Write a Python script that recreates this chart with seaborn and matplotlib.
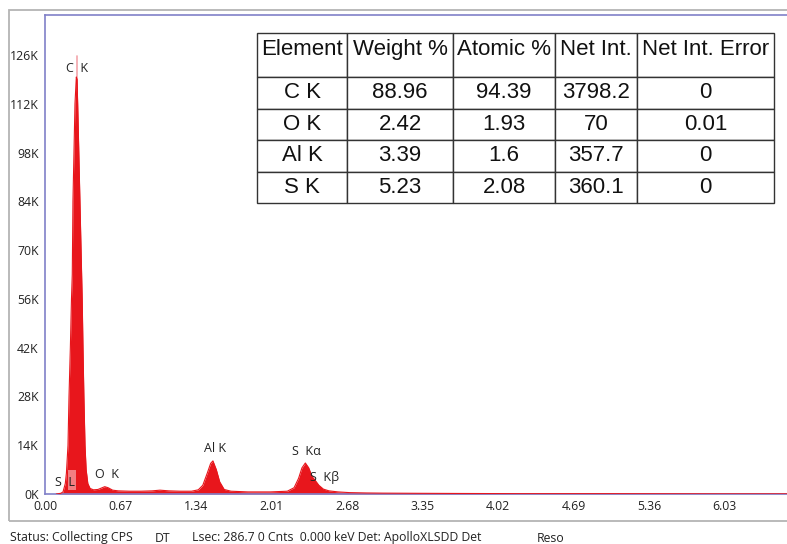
import matplotlib
matplotlib.use("Agg")
import matplotlib.pyplot as plt
import seaborn as sns
import pandas as pd
from matplotlib.patches import Rectangle

# ---------------- data ----------------
energy_kev = [0.10, 0.14, 0.16, 0.18, 0.19, 0.204, 0.213, 0.225, 0.235, 0.242,
              0.248, 0.257, 0.266, 0.278, 0.284, 0.29, 0.30, 0.31, 0.32, 0.33,
              0.337, 0.345, 0.355, 0.365, 0.38, 0.40, 0.43, 0.47, 0.50, 0.53,
              0.56, 0.60, 0.65, 0.75, 0.85, 0.95, 1.02, 1.10, 1.20, 1.30,
              1.36, 1.40, 1.44, 1.47, 1.49, 1.52, 1.55, 1.59, 1.65, 1.80,
              2.00, 2.15, 2.21, 2.25, 2.28, 2.31, 2.34, 2.37, 2.40, 2.43,
              2.47, 2.52, 2.60, 2.70, 2.85, 3.00, 3.30, 3.70, 4.20, 5.00,
              6.00, 6.70]
counts_k = [0.0, 0.2, 0.6, 3.0, 6.0, 14.0, 28.0, 42.0, 56.0, 63.0,
            84.0, 98.0, 112.0, 119.7, 119.0, 112.0, 98.0, 84.0, 70.0, 56.0,
            42.0, 28.0, 14.0, 7.0, 3.0, 1.6, 1.2, 1.3, 1.7, 2.1,
            1.8, 1.1, 0.9, 0.8, 0.8, 0.9, 1.1, 0.9, 0.8, 0.8,
            1.2, 2.5, 6.0, 8.8, 9.5, 7.0, 3.5, 1.3, 0.8, 0.6,
            0.6, 0.8, 1.8, 4.5, 7.5, 8.9, 7.5, 5.0, 3.8, 2.5,
            1.4, 0.9, 0.6, 0.4, 0.3, 0.25, 0.2, 0.15, 0.1, 0.1,
            0.05, 0.05]

x_ticks = [0.00, 0.67, 1.34, 2.01, 2.68, 3.35, 4.02, 4.69, 5.36, 6.03]
y_ticks = [0, 14, 28, 42, 56, 70, 84, 98, 112, 126]

peak_labels = ["C  K", "S  L", "O  K", "Al K", "S  Kα", "S  Kβ"]
peak_label_e = [0.288, 0.177, 0.55, 1.508, 2.316, 2.485]
peak_label_k = [122.0, 3.4, 5.7, 13.2, 12.3, 4.6]

ck_marker_e = 0.281
ck_marker_top = 125.7
sl_box = (0.204, 1.1, 0.071, 5.8)  # energy, counts, width, height

table_columns = ["Element", "Weight %", "Atomic %", "Net Int.", "Net Int. Error"]
elements = ["C K", "O K", "Al K", "S K"]
weight_pct = ["88.96", "2.42", "3.39", "5.23"]
atomic_pct = ["94.39", "1.93", "1.6", "2.08"]
net_int = ["3798.2", "70", "357.7", "360.1"]
net_int_err = ["0", "0.01", "0", "0"]

status_texts = ["Status: Collecting CPS", "DT",
                "Lsec: 286.7 0 Cnts  0.000 keV Det: ApolloXLSDD Det", "Reso"]
status_x_px = [10, 155, 192, 537]

# ---------------- style ----------------
sns.set_style("white")
plt.rcParams['font.family'] = ['Open Sans', 'DejaVu Sans']

W, H = 787, 544
fig = plt.figure(figsize=(W / 100, H / 100), dpi=100)
fig.patch.set_facecolor("white")

# outer frame
fig.patches.append(Rectangle((9 / W, 1 - 521 / H), 1.2, (521 - 10) / H,
                             transform=fig.transFigure, fill=False,
                             edgecolor="#b4b4b4", lw=1.3, zorder=0))

px_per_kev = 112.7
px_per_k = 3.484
ax_left, ax_right, ax_top, ax_bot = 45, 800, 15, 494
ax = fig.add_axes([ax_left / W, 1 - ax_bot / H, (ax_right - ax_left) / W,
                   (ax_bot - ax_top) / H])

red = "#e8161c"
df = pd.DataFrame({"energy": energy_kev, "counts": counts_k})

ax.plot([ck_marker_e, ck_marker_e], [0, ck_marker_top], color="#f4a5ab", lw=1.2, zorder=1)
ax.fill_between(df["energy"], df["counts"], 0, color=red, lw=0, zorder=2)
sns.lineplot(data=df, x="energy", y="counts", ax=ax, color=red, lw=0.8,
             estimator=None, sort=False, zorder=3)
ax.add_patch(Rectangle((sl_box[0], sl_box[1]), sl_box[2], sl_box[3],
                       facecolor="white", alpha=0.45, lw=0, zorder=4))

for lab, e, k in zip(peak_labels, peak_label_e, peak_label_k):
    ax.text(e, k, lab, ha="center", va="center", fontsize=9, color="#222222", zorder=5)

ax.set_xlim(0, (ax_right - ax_left) / px_per_kev)
ax.set_ylim(0, (ax_bot - ax_top) / px_per_k)
ax.set_xticks(x_ticks)
ax.set_xticklabels([f"{v:.2f}" for v in x_ticks])
ax.set_yticks(y_ticks)
ax.set_yticklabels([f"{v}K" for v in y_ticks])
ax.set_xlabel("")
ax.set_ylabel("")
ax.tick_params(axis="both", labelsize=8.8, length=3, width=0.8, color="#999999",
               labelcolor="#222222", pad=1.5)
for s in ["left", "top", "bottom", "right"]:
    ax.spines[s].set_color("#8080c8")
    ax.spines[s].set_linewidth(1.2)

# ---------------- table ----------------
tb_left, tb_right, tb_top, tb_bot = 257, 774, 33, 203
ax_t = fig.add_axes([tb_left / W, 1 - tb_bot / H, (tb_right - tb_left) / W,
                     (tb_bot - tb_top) / H])
ax_t.axis("off")
rows = [list(r) for r in zip(elements, weight_pct, atomic_pct, net_int, net_int_err)]
col_w = [90, 106, 102, 82, 137]
tbl = ax_t.table(cellText=rows, colLabels=table_columns, cellLoc="center",
                 colWidths=[c / sum(col_w) for c in col_w], bbox=[0, 0, 1, 1])
tbl.auto_set_font_size(False)
for (r, c), cell in tbl.get_celld().items():
    cell.set_height(44 if r == 0 else 31.5)
    cell.set_edgecolor("#333333")
    cell.set_linewidth(1.0)
    cell.set_facecolor("white")
    t = cell.get_text()
    t.set_fontfamily("Liberation Sans")
    t.set_fontsize(16)
    t.set_color("#111111")
    if r == 0:
        t.set_va("baseline")

# ---------------- status bar ----------------
for txt, xp in zip(status_texts, status_x_px):
    fig.text(xp / W, 1 - 538 / H, txt, ha="left", va="center", fontsize=8.8,
             color="#222222")

fig.savefig("out.png", dpi=100, facecolor="white")
